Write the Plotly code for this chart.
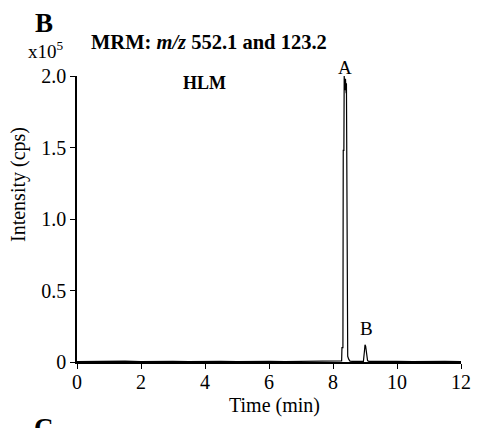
import plotly.graph_objects as go

# ---- data (time in min, intensity in cps) ----
time_min = [0.0, 0.5, 1.0, 1.5, 2.0, 2.5, 3.0, 3.5, 4.0, 4.5, 5.0, 5.5, 6.0, 6.5,
            7.0, 7.5, 8.0, 8.20, 8.27, 8.28, 8.31, 8.32, 8.34, 8.35, 8.37, 8.39,
            8.41, 8.42, 8.43, 8.45, 8.46, 8.49, 8.53, 8.60, 8.80, 8.95, 8.98,
            9.00, 9.02, 9.05, 9.08, 9.12, 9.30, 9.50, 10.0, 10.5, 11.0, 11.5, 12.0]
intensity_cps = [300, 500, 400, 600, 300, 500, 400, 300, 500, 400, 300, 500, 400, 300,
                 500, 400, 500, 500, 800, 10000, 10000, 148000, 148000, 200000, 190000, 198000,
                 188000, 195000, 108000, 106000, 4000, 2000, 600, 500, 400, 500, 7000,
                 12000, 11000, 4000, 1000, 400, 500, 400, 500, 300, 500, 400, 300]

x_ticks = [0, 2, 4, 6, 8, 10, 12]
y_tick_vals = [0, 50000, 100000, 150000, 200000]
y_tick_text = ["0", "0.5", "1.0", "1.5", "2.0"]

peak_labels = ["A", "B"]
peak_label_x = [8.375, 9.06]
peak_label_px_y = [67, 328]   # label positions in figure pixels (vertical)

FONT = "Liberation Serif"
W, H = 479, 428
L, R, T, B = 77, 18, 76, 66
pw, ph = W - L - R, H - T - B


def py_to_paper(py):
    return (H - B - py) / ph


def px_to_paper(px):
    return (px - L) / pw


fig = go.Figure()
fig.add_trace(go.Scatter(
    x=time_min, y=intensity_cps, mode="lines",
    line=dict(color="black", width=1.2),
    showlegend=False, cliponaxis=False,
))

for t, xv, pyv in zip(peak_labels, peak_label_x, peak_label_px_y):
    fig.add_annotation(x=xv, y=py_to_paper(pyv), xref="x", yref="paper", text=t,
                       showarrow=False, xanchor="center", yanchor="middle",
                       font=dict(family=FONT, size=19, color="black"))

ann = [
    dict(text="<b>B</b>", x=44, y=23, size=27),
    dict(text="x10<sup>5</sup>", x=46, y=50, size=19),
    dict(text="<b>MRM: <i>m/z</i> 552.1 and 123.2</b>", x=209, y=42, size=20.5),
    dict(text="<b>HLM</b>", x=204, y=83, size=18),
    dict(text="Time (min)", x=274, y=405, size=20),
    dict(text="<b>C</b>", x=44, y=428, size=27),
]
for a in ann:
    fig.add_annotation(x=px_to_paper(a["x"]), y=py_to_paper(a["y"]),
                       xref="paper", yref="paper",
                       text=a["text"], showarrow=False, xanchor="center", yanchor="middle",
                       font=dict(family=FONT, size=a["size"], color="black"))

# y-axis title
fig.add_annotation(x=px_to_paper(18), y=py_to_paper(185), xref="paper", yref="paper",
                   text="Intensity (cps)", textangle=-90, showarrow=False,
                   xanchor="center", yanchor="middle",
                   font=dict(family=FONT, size=20, color="black"))

fig.update_layout(
    width=W, height=H,
    margin=dict(l=L, r=R, t=T, b=B, autoexpand=False),
    paper_bgcolor="white", plot_bgcolor="white",
    font=dict(family=FONT, size=20, color="black"),
    xaxis=dict(range=[0, 12], tickvals=x_ticks, ticks="outside", ticklen=5,
               tickwidth=1.3, tickcolor="black", showline=True, linecolor="black",
               linewidth=1.5, showgrid=False, zeroline=False, ticklabelstandoff=-4,
               tickfont=dict(family=FONT, size=20, color="black")),
    yaxis=dict(range=[0, 200000], tickvals=y_tick_vals, ticktext=y_tick_text,
               ticks="outside", ticklen=5, tickwidth=1.3, tickcolor="black",
               showline=True, linecolor="black", linewidth=1.5, showgrid=False,
               zeroline=False, tickfont=dict(family=FONT, size=20, color="black")),
)

fig.write_html("out.html", config={"displayModeBar": False},
               post_script="document.body.style.margin='0';document.body.style.overflow='hidden';")
